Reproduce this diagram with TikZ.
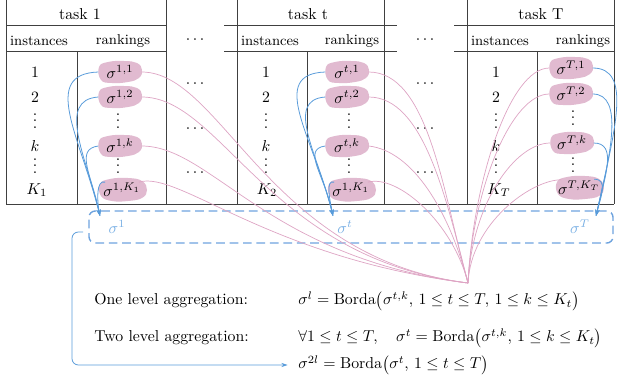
\documentclass[tikz,border=0pt]{standalone}
\usetikzlibrary{shapes.geometric,arrows.meta}
\definecolor{blobpink}{RGB}{225,186,208}
\definecolor{linkpink}{RGB}{222,165,196}
\definecolor{arrowblue}{RGB}{88,155,218}
\definecolor{boxblue}{RGB}{110,163,222}
\definecolor{labelblue}{RGB}{120,175,228}
\newcommand{\vdts}{\vbox{\baselineskip4pt\lineskiplimit0pt\hbox{.}\hbox{.}\hbox{.}}}
\pgfdeclarelayer{background}
\pgfsetlayers{background,main}
\begin{document}
\begin{tikzpicture}[x=0.633pt,y=-0.633pt,
  tline/.style={draw=black!75,line width=0.6pt},
  hdr/.style={inner sep=0pt},
  sub/.style={inner sep=0pt,font=\small},
  cell/.style={inner sep=0pt},
  blob/.style={ellipse,inner sep=0pt,minimum width=27pt,minimum height=12.5pt},
  barrow/.style={draw=arrowblue,line width=0.5pt,-{Stealth[length=4pt,width=2.6pt]}},
  plink/.style={draw=linkpink,line width=0.45pt},
  lbl/.style={inner sep=0pt,text=labelblue},
  txt/.style={inner sep=0pt,anchor=west}]
\useasboundingbox (0,0) rectangle (621,381);

% ---------- table lines ----------
\foreach \x in {6,166,237,384,467,614} \draw[tline] (\x,0) -- (\x,204);
\foreach \x in {77,307,537} \draw[tline] (\x,51) -- (\x,204);
\foreach \y in {25,51} {
  \draw[tline] (6,\y) -- (166,\y);
  \draw[tline] (224,\y) -- (397,\y);
  \draw[tline] (454,\y) -- (615,\y);
}
\draw[tline] (6,204) -- (614,204);

% ---------- headers ----------
\node[hdr] (h1) at (80,14) {task 1};
\node[hdr] (h2) at (308,14) {task t};
\node[hdr] (h3) at (541,14) {task T};
\node[sub] (i1) at (39,41) {instances};
\node[sub] (r1) at (123,41) {rankings};
\node[sub] (i2) at (270,41) {instances};
\node[sub] (r2) at (352,41) {rankings};
\node[sub] (i3) at (500,41) {instances};
\node[sub] (r3) at (583,41) {rankings};

% ---------- dots between tasks ----------
\foreach \y [count=\i] in {40,84,129,173} {
  \node[cell] (dl\i) at (195,\y) {$\cdots$};
  \node[cell] (dr\i) at (425,\y) {$\cdots$};
}

% ---------- instance columns ----------
\node[cell] (p11) at (35,72) {$1$};
\node[cell] (p12) at (35,97) {$2$};
\node[cell] (p13) at (35,121) {\vdts};
\node[cell] (p14) at (35,146) {$k$};
\node[cell] (p15) at (35,166) {\vdts};
\node[cell] (p16) at (37,190) {$K_1$};

\node[cell] (p21) at (266,72) {$1$};
\node[cell] (p22) at (266,97) {$2$};
\node[cell] (p23) at (266,121) {\vdts};
\node[cell] (p24) at (266,146) {$k$};
\node[cell] (p25) at (266,166) {\vdts};
\node[cell] (p26) at (267,190) {$K_2$};

\node[cell] (p31) at (496,72) {$1$};
\node[cell] (p32) at (496,97) {$2$};
\node[cell] (p33) at (496,121) {\vdts};
\node[cell] (p34) at (496,146) {$k$};
\node[cell] (p35) at (496,166) {\vdts};
\node[cell] (p36) at (499,190) {$K_T$};

% ---------- ranking blobs ----------
\node[blob] (a1) at (120,72) {$\sigma^{1,1}$};
\node[blob] (a2) at (120,97) {$\sigma^{1,2}$};
\node[cell] (av1) at (118,121) {\vdts};
\node[blob] (a3) at (120,146) {$\sigma^{1,k}$};
\node[cell] (av2) at (118,166) {\vdts};
\node[blob] (a4) at (122,190) {$\sigma^{1,K_1}$};

\node[blob] (b1) at (347,72) {$\sigma^{t,1}$};
\node[blob] (b2) at (347,97) {$\sigma^{t,2}$};
\node[cell] (bv1) at (349,121) {\vdts};
\node[blob] (b3) at (347,146) {$\sigma^{t,k}$};
\node[cell] (bv2) at (349,166) {\vdts};
\node[blob] (b4) at (351,190) {$\sigma^{1,K_1}$};

\node[blob] (c1) at (571,68) {$\sigma^{T,1}$};
\node[blob] (c2) at (571,94) {$\sigma^{T,2}$};
\node[cell] (cv1) at (573,118) {\vdts};
\node[blob] (c3) at (572,143) {$\sigma^{T,k}$};
\node[cell] (cv2) at (573,165) {\vdts};
\node[blob] (c4) at (579,188) {$\sigma^{T,K_T}$};

% blob fills (potato shapes behind the labels)
\begin{pgfonlayer}{background}
\foreach \n in {a1,a2,a3,b1,b2,b3,c1,c2,c3} {
  \fill[blobpink,shift={(\n.center)}]
    plot[smooth cycle,tension=0.75] coordinates
    {(-21,-5) (-12,-10) (4,-11) (17,-9) (22,-2) (19,6) (8,10) (-8,11) (-19,8)};
}
\foreach \n in {a4,b4,c4} {
  \fill[blobpink,shift={(\n.center)}]
    plot[smooth cycle,tension=0.75] coordinates
    {(-22,-6) (-12,-11) (6,-12) (20,-9) (25,0) (20,8) (6,11) (-10,11) (-21,6)};
}
\end{pgfonlayer}

% ---------- aggregated box ----------
\node[draw=boxblue,line width=0.9pt,dash pattern=on 5.5pt off 3pt,rounded corners=4pt,
      minimum width=331.7pt,minimum height=20.3pt,inner sep=0pt] (box) at (351,227) {};
\node[lbl] (s1) at (117,227) {$\sigma^1$};
\node[lbl] (st) at (345,227) {$\sigma^t$};
\node[lbl] (sT) at (580,227) {$\sigma^T$};

\coordinate (tip1) at (100,216);
\coordinate (tip2) at (333,216);
\coordinate (tip3) at (596,216);
\coordinate (conv) at (468,283);

% ---------- pink links to one-level aggregation ----------
\draw[plink] (a1.east) .. controls +(80,0) and +(-200,-25) .. (conv);
\draw[plink] (a2.east) .. controls +(80,0) and +(-200,-25) .. (conv);
\draw[plink] (a3.east) .. controls +(70,0) and +(-200,-25) .. (conv);
\draw[plink] (a4.25) .. controls +(40,-12) and +(-200,-25) .. (conv);

\draw[plink] (b1.east) .. controls +(60,0) and +(-25,-90) .. (conv);
\draw[plink] (b2.east) .. controls +(55,0) and +(-22,-85) .. (conv);
\draw[plink] (b3.east) .. controls +(45,5) and +(-18,-70) .. (conv);
\draw[plink] (b4.25) .. controls +(30,-8) and +(-15,-60) .. (conv);

\draw[plink] (c1.west) .. controls +(-40,0) and +(5,-100) .. (conv);
\draw[plink] (c2.west) .. controls +(-38,0) and +(5,-95) .. (conv);
\draw[plink] (c3.west) .. controls +(-35,0) and +(4,-80) .. (conv);
\draw[plink] (c4.155) .. controls +(-30,0) and +(3,-60) .. (conv);

% ---------- blue links to per-task aggregation ----------
\draw[barrow] (a1.west) .. controls +(-58,2) and +(-20,-80) .. (tip1);
\draw[barrow] (a2.west) .. controls +(-42,3) and +(-14,-60) .. (tip1);
\draw[barrow] (a3.west) .. controls +(-24,3) and +(-8,-40) .. (tip1);
\draw[barrow] (a4.155) .. controls +(-9,-3) and +(-3,-15) .. (tip1);

\draw[barrow] (b1.west) .. controls +(-58,2) and +(-20,-80) .. (tip2);
\draw[barrow] (b2.west) .. controls +(-42,3) and +(-14,-60) .. (tip2);
\draw[barrow] (b3.west) .. controls +(-24,3) and +(-8,-40) .. (tip2);
\draw[barrow] (b4.155) .. controls +(-9,-3) and +(-3,-15) .. (tip2);

\draw[barrow] (c1.east) .. controls +(40,0) and +(19,-87) .. (tip3);
\draw[barrow] (c2.east) .. controls +(32,0) and +(14,-60) .. (tip3);
\draw[barrow] (c3.east) .. controls +(24,0) and +(9,-40) .. (tip3);
\draw[barrow] (c4.30) .. controls +(14,0) and +(5,-20) .. (tip3);

% ---------- formulas ----------
\node[txt] (t1) at (94,301) {One level aggregation:};
\node[txt] (t2) at (94,338) {Two level aggregation:};
\node[txt] (eq1) at (298,301) {$\sigma^l=\mathrm{Borda}\big(\sigma^{t,k},\,1\leq t\leq T,\,1\leq k\leq K_t\big)$};
\node[txt] (eq2) at (298,338) {$\forall 1\leq t\leq T,\quad \sigma^t=\mathrm{Borda}\big(\sigma^{t,k},\,1\leq k\leq K_t\big)$};
\node[txt] (eq3) at (298,365) {$\sigma^{2l}=\mathrm{Borda}\big(\sigma^{t},\,1\leq t\leq T\big)$};

\coordinate (Lstart) at (83,232);
\draw[barrow,rounded corners=4pt] (Lstart) -- ++(-11,0) |- ([xshift=-6.5pt]eq3.west);
\end{tikzpicture}
\end{document}
